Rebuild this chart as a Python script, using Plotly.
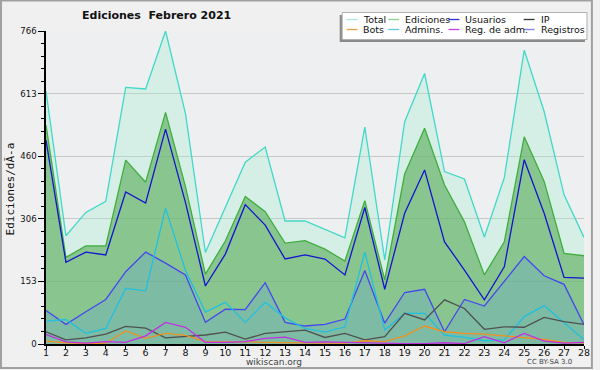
import plotly.graph_objects as go

days = list(range(1, 29))
total = [619, 265, 322, 349, 628, 624, 766, 564, 224, 335, 445, 482, 301, 301,
         281, 260, 531, 206, 544, 662, 422, 404, 262, 407, 719, 569, 365, 261]
ediciones = [536, 212, 240, 240, 450, 396, 567, 385, 171, 252, 361, 324, 247, 253,
             232, 203, 351, 157, 416, 528, 389, 299, 169, 250, 507, 398, 222, 216]
usuarios = [499, 200, 225, 218, 372, 345, 526, 346, 142, 220, 341, 291, 208, 218,
            208, 169, 334, 134, 320, 426, 250, 181, 108, 189, 451, 320, 163, 161]
registros = [82, 48, 79, 109, 177, 225, 198, 169, 53, 85, 84, 150, 53, 44,
             48, 61, 180, 51, 126, 134, 30, 109, 93, 153, 214, 167, 146, 47]
admins = [56, 60, 26, 38, 136, 130, 332, 180, 78, 102, 53, 102, 64, 38,
          29, 42, 225, 34, 75, 75, 22, 16, 8, 10, 67, 94, 52, 11]
ip = [30, 10, 15, 24, 43, 39, 15, 18, 22, 29, 12, 26, 30, 34,
      16, 26, 10, 18, 75, 59, 108, 87, 36, 42, 41, 65, 55, 48]
bots = [7, 3, 1, 2, 32, 14, 26, 21, 6, 6, 5, 4, 3, 2,
        2, 2, 8, 6, 20, 44, 30, 26, 24, 20, 16, 11, 4, 3]
reg_adm = [23, 5, 2, 6, 4, 20, 53, 41, 4, 4, 6, 14, 17, 4,
           5, 4, 2, 1, 1, 1, 3, 1, 18, 3, 26, 7, 2, 4]

y_tickvals = [0, 153.2, 306.4, 459.6, 612.8, 766]
y_ticktext = ["0", "153", "306", "460", "613", "766"]
x_ticks = days

W, H = 600, 370
L, R, T, B = 46, 10, 31, 26
PW, PH = W - L - R, H - T - B

def px(x):
    return (x - L) / PW

def py(y):
    return (H - B - y) / PH

series = [
    ("Total", total, "#40d8c8", "rgba(158,240,206,0.30)", "#a8e8dc"),
    ("Ediciones", ediciones, "#3fae3f", "rgba(90,172,88,0.62)", "#8fd08f"),
    ("Usuarios", usuarios, "#1414d0", None, "#3333e0"),
    ("Registros", registros, "#4646f0", "rgba(80,150,240,0.22)", "#8080f0"),
    ("Admins.", admins, "#20c0e0", None, "#60c8e0"),
    ("IP", ip, "#505050", None, "#333333"),
    ("Bots", bots, "#f09020", None, "#f0a040"),
    ("Reg. de adm.", reg_adm, "#c030e0", None, "#c040e0"),
]

fig = go.Figure()
for name, vals, lc, fc, _ in series:
    kw = dict(x=days, y=vals, name=name, mode="lines",
              line=dict(color=lc, width=1.3), showlegend=False)
    if fc:
        kw.update(fill="tozeroy", fillcolor=fc)
    fig.add_trace(go.Scatter(**kw))

shapes = []
annotations = []

# frame
shapes.append(dict(type="rect", xref="paper", yref="paper",
                   x0=px(0.5), x1=px(598), y0=py(368), y1=py(0.5),
                   line=dict(color="#a0a0a0", width=2), layer="below"))

# legend box with shadow
shapes.append(dict(type="rect", xref="paper", yref="paper",
                   x0=px(343), x1=px(591), y0=py(42), y1=py(15),
                   fillcolor="#8a8a8a", line=dict(width=0)))
shapes.append(dict(type="rect", xref="paper", yref="paper",
                   x0=px(345.5), x1=px(593), y0=py(39.5), y1=py(12.5),
                   fillcolor="white", line=dict(color="#b0b0b0", width=1)))

legend_rows = [["Total", "Ediciones", "Usuarios", "IP"],
               ["Bots", "Admins.", "Reg. de adm.", "Registros"]]
col_line_x = [350, 392, 453, 529]
row_y = [19.5, 29.5]
leg_colors = {s[0]: s[4] for s in series}
for r, row in enumerate(legend_rows):
    for c, name in enumerate(row):
        x0 = col_line_x[c]
        shapes.append(dict(type="line", xref="paper", yref="paper",
                           x0=px(x0), x1=px(x0 + 11), y0=py(row_y[r]), y1=py(row_y[r]),
                           line=dict(color=leg_colors[name], width=1.3)))
        annotations.append(dict(xref="paper", yref="paper", x=px(x0 + 15), y=py(row_y[r]),
                                text=name, showarrow=False, xanchor="left", yanchor="middle",
                                font=dict(family="DejaVu Sans", size=9.5, color="#111")))

annotations.append(dict(xref="paper", yref="paper", x=px(158), y=py(16),
                        text="<b>Ediciones  Febrero 2021</b>", showarrow=False,
                        xanchor="center", yanchor="middle",
                        font=dict(family="DejaVu Sans", size=11, color="#111")))
annotations.append(dict(xref="paper", yref="paper", x=px(10), y=py(189),
                        text="Ediciones/dÃ-a", showarrow=False, textangle=-90,
                        xanchor="center", yanchor="middle",
                        font=dict(family="DejaVu Sans Mono", size=11, color="#111")))
annotations.append(dict(xref="paper", yref="paper", x=px(277), y=py(362),
                        text="wikiscan.org", showarrow=False,
                        xanchor="center", yanchor="middle",
                        font=dict(family="DejaVu Sans", size=9, color="#444")))
annotations.append(dict(xref="paper", yref="paper", x=px(555), y=py(362),
                        text="CC BY-SA 3.0", showarrow=False,
                        xanchor="center", yanchor="middle",
                        font=dict(family="DejaVu Sans", size=7, color="#444")))

fig.update_layout(
    width=W, height=H,
    margin=dict(l=L, r=R, t=T, b=B, pad=0),
    paper_bgcolor="#f0f0f0", plot_bgcolor="#eeeff1",
    shapes=shapes, annotations=annotations,
    xaxis=dict(range=[1, 28], tickvals=x_ticks, ticktext=[str(d) for d in x_ticks],
               ticks="outside", ticklen=3, tickcolor="black", showgrid=False,
               showline=True, linecolor="black", linewidth=1.5, zeroline=False,
               ticklabelstandoff=-4,
               tickfont=dict(family="DejaVu Sans", size=9.5, color="#111")),
    yaxis=dict(range=[0, 766], tickvals=y_tickvals, ticktext=y_ticktext,
               ticks="outside", ticklen=6, tickcolor="black", showgrid=True,
               gridcolor="#c8c8c8", gridwidth=1, showline=True, linecolor="black",
               linewidth=1.5, zeroline=False,
               tickfont=dict(family="DejaVu Sans", size=8.5, color="#111"),
               minor=dict(tick0=0, dtick=30.64, ticks="outside", ticklen=3,
                          tickcolor="black", showgrid=False)),
)

fig.write_html("out.html", config={"displayModeBar": False},
               post_script="document.body.style.margin='0';document.body.style.overflow='hidden';")
